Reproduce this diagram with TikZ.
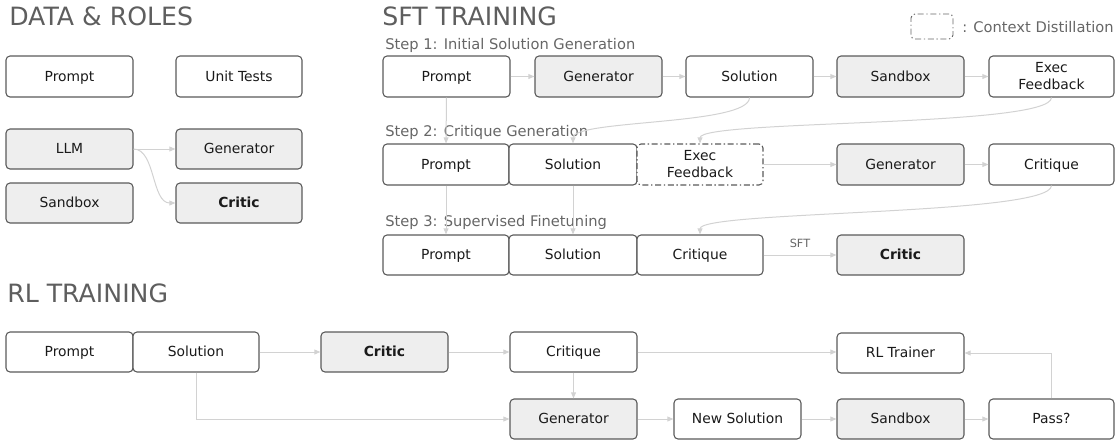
\documentclass[tikz,border=0pt]{standalone}
\usepackage{fontspec}
\setmainfont{DejaVu Sans}
\usetikzlibrary{arrows.meta}
\definecolor{bordc}{HTML}{5A5A5A}
\definecolor{fillc}{HTML}{EEEEEE}
\definecolor{arrc}{HTML}{D2D2D2}
\definecolor{headc}{HTML}{5E5E5E}
\definecolor{stepc}{HTML}{666666}
\definecolor{txtc}{HTML}{1A1A1A}
\tikzset{
  bb/.style={draw=bordc, line width=0.8pt, rounded corners=3pt, fill=white, inner sep=0pt,
    align=center, text=txtc, font=\fontsize{10.4}{12.75}\selectfont},
  box/.style={bb, text height=0.73em, text depth=0pt},
  gbox/.style={box, fill=fillc},
  critbox/.style={gbox, font=\fontsize{10.4}{12.75}\selectfont\bfseries},
  ddbox/.style={bb, dash pattern=on 4.5pt off 2pt on 1pt off 2pt},
  legbox/.style={ddbox, draw=stepc, line width=0.7pt},
  arr/.style={draw=arrc, line width=0.75pt, -{Triangle[length=4.5pt,width=3.6pt]}},
  head/.style={anchor=base west, inner sep=0pt, text=headc, font=\fontsize{18.9}{20}\selectfont},
  steplbl/.style={anchor=base west, inner sep=0pt, text=stepc, font=\fontsize{11}{13}\selectfont},
  smalllbl/.style={inner sep=0pt, text=stepc, font=\fontsize{8.5}{10}\selectfont}
}
\newcommand\bx[7][box]{%
  \pgfmathsetmacro\bxw{(#4-#2)*0.75}%
  \pgfmathsetmacro\bxh{(#5-#3)*0.75}%
  \node[#1,minimum width=\bxw pt,minimum height=\bxh pt] (#6) at ({(#2+#4)/2},{(#3+#5)/2}) {#7};}
\begin{document}
\begin{tikzpicture}[x=0.75pt,y=-0.75pt]
\useasboundingbox (0,0) rectangle (1115,440);

% headers
\node[head] (h1) at (9,25) {DATA \& ROLES};
\node[head] (h2) at (382,25) {SFT TRAINING};
\node[head] (h3) at (7,302) {RL TRAINING};

% legend
\bx[legbox]{911}{14}{953}{39}{leg}{}
\node[steplbl] (legt) at (962,32) {: Context Distillation};

% data & roles
\bx{6}{56}{133}{97}{dprompt}{Prompt}
\bx{176}{56}{302}{97}{dtests}{Unit Tests}
\bx[gbox]{6}{129}{133}{169}{dllm}{LLM}
\bx[gbox]{176}{129}{302}{169}{dgen}{Generator}
\bx[gbox]{6}{183}{133}{223}{dsand}{Sandbox}
\bx[critbox]{176}{183}{302}{223}{dcrit}{Critic}
\draw[arr] (dllm.east) -- (dgen.west);
\draw[arr] (dllm.east) .. controls +(22,0) and +(-24,0) .. (dcrit.west);

% SFT step 1
\node[steplbl] (st1) at (385,49) {Step 1: Initial Solution Generation};
\bx{383}{56}{510}{97}{sa}{Prompt}
\bx[gbox]{535}{56}{662}{97}{sb}{Generator}
\bx{686}{56}{813}{97}{sc}{Solution}
\bx[gbox]{837}{56}{964}{97}{sd}{Sandbox}
\bx[bb]{989}{56}{1114}{97}{se}{Exec\\Feedback}
\draw[arr] (sa) -- (sb);
\draw[arr] (sb) -- (sc);
\draw[arr] (sc) -- (sd);
\draw[arr] (sd) -- (se);

% SFT step 2
\node[steplbl] (st2) at (385,136) {Step 2: Critique Generation};
\bx{383}{144}{509}{185}{ta}{Prompt}
\bx{509}{144}{637}{185}{tb}{Solution}
\bx[ddbox]{637}{144}{763}{185}{tc}{Exec\\Feedback}
\bx[gbox]{837}{144}{964}{185}{td}{Generator}
\bx{989}{144}{1114}{185}{te}{Critique}
\draw[arr] (tc) -- (td);
\draw[arr] (td) -- (te);
\draw[arr] (sa.south) -- (ta.north);
\draw[arr] (sc.south) .. controls +(0,28) and +(0,-24) .. (tb.north);
\draw[arr] (se.south) .. controls +(0,30) and +(0,-24) .. (tc.north);

% SFT step 3
\node[steplbl] (st3) at (385,226) {Step 3: Supervised Finetuning};
\bx{383}{235}{509}{275}{ua}{Prompt}
\bx{509}{235}{637}{275}{ub}{Solution}
\bx{637}{235}{763}{275}{uc}{Critique}
\bx[critbox]{837}{235}{964}{275}{ud}{Critic}
\draw[arr] (uc) -- node[smalllbl, above=5pt] (sftl) {SFT} (ud);
\draw[arr] (ta.south) -- (ua.north);
\draw[arr] (tb.south) -- (ub.north);
\draw[arr] (te.south) .. controls +(0,30) and +(0,-24) .. (uc.north);

% RL training
\bx{6}{332}{133}{372}{rp}{Prompt}
\bx{133}{332}{259}{372}{rs}{Solution}
\bx[critbox]{321}{332}{448}{372}{rk}{Critic}
\bx{510}{332}{637}{372}{rc}{Critique}
\bx{837}{333}{964}{373}{rt}{RL Trainer}
\bx[gbox]{510}{399}{637}{439}{rg}{Generator}
\bx{674}{399}{801}{439}{rn}{New Solution}
\bx[gbox]{837}{399}{964}{439}{rb}{Sandbox}
\bx{989}{399}{1114}{439}{rq}{Pass?}
\draw[arr] (rs) -- (rk);
\draw[arr] (rk) -- (rc);
\draw[arr] (rc.east) -- (rc.east -| rt.west);
\draw[arr] (rc.south) -- (rg.north);
\draw[arr] (rs.south) |- (rg.west);
\draw[arr] (rg) -- (rn);
\draw[arr] (rn) -- (rb);
\draw[arr] (rb) -- (rq);
\draw[arr] (rq.north) |- (rt.east);
\end{tikzpicture}
\end{document}
